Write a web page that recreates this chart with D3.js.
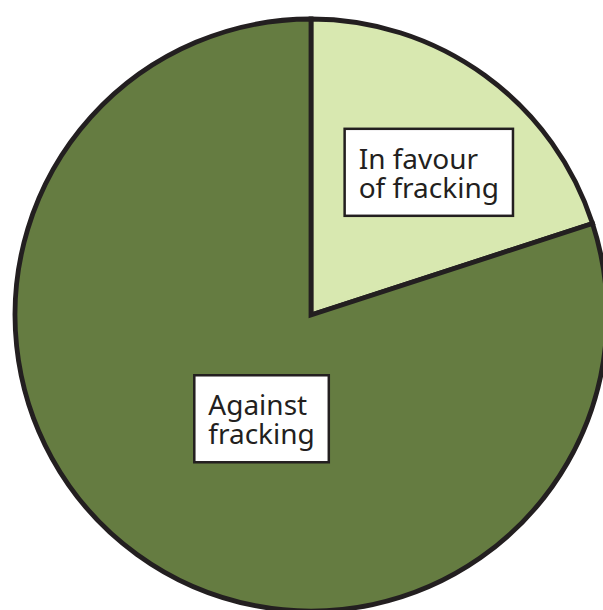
<!DOCTYPE HTML>
<html>
	<head>
        <meta charset='utf-8'>
        <title>Fracking pie</title>
        <script src='https://d3js.org/d3.v7.min.js'></script>
        <style>
            body { margin: 0; background: #fff; }
            .slice { stroke: #231f20; stroke-width: 4.8px; stroke-linejoin: miter; }
            .label-box { fill: #fff; stroke: #231f20; stroke-width: 2.5px; }
            .label-text { font: 28px 'Noto Sans'; fill: #231f20; }
        </style>
	</head>
	<body>
        <svg width='603' height='610' id='pie'></svg>
        <script>
            // values (percent)
            const categories = ['In favour of fracking', 'Against fracking'];
            const values = [20, 80];
            const labelLines = [['In favour', 'of fracking'], ['Against', 'fracking']];
            const sliceColors = ['#d8e8b0', '#657c41'];

            var svg = d3.select('svg#pie'),
                cx = 311,
                cy = 315,
                radius = 296;

            var pie = d3.pie().sort(null).value(function(d) { return d.value; });
            var arc = d3.arc().innerRadius(0).outerRadius(radius);

            var data = categories.map(function(c, i) {
                return { name: c, value: values[i], lines: labelLines[i], color: sliceColors[i] };
            });

            var g = svg.append('g')
                .attr('transform', 'translate(' + cx + ',' + cy + ')');

            g.selectAll('path.slice')
                .data(pie(data))
                .enter().append('path')
                .attr('class', 'slice')
                .attr('fill', function(d) { return d.data.color; })
                .attr('d', arc);

            // where each label box sits: fraction of radius, and a small turn off the mid angle
            var labelRadius = [0.622, 0.392];
            var labelTurn = [0.066, -0.188];
            var lineHeight = 29;
            var padX = 14, padY = 10;

            var labels = g.selectAll('g.label')
                .data(pie(data))
                .enter().append('g')
                .attr('class', 'label')
                .attr('transform', function(d, i) {
                    var a = (d.startAngle + d.endAngle) / 2 + labelTurn[i];
                    var r = radius * labelRadius[i];
                    return 'translate(' + (Math.sin(a) * r) + ',' + (-Math.cos(a) * r) + ')';
                });

            labels.each(function(d) {
                var lg = d3.select(this);
                var rect = lg.append('rect').attr('class', 'label-box');
                var text = lg.append('text').attr('class', 'label-text');
                var n = d.data.lines.length;
                d.data.lines.forEach(function(line, j) {
                    text.append('tspan')
                        .attr('x', 0)
                        .attr('y', (j - (n - 1) / 2) * lineHeight)
                        .attr('dy', '0.35em')
                        .text(line);
                });
                var bb = text.node().getBBox();
                // center the block on the anchor, lines left-aligned
                text.selectAll('tspan').attr('x', -bb.width / 2);
                rect.attr('x', -bb.width / 2 - padX)
                    .attr('y', bb.y - padY)
                    .attr('width', bb.width + 2 * padX)
                    .attr('height', bb.height + 2 * padY);
            });
        </script>
	</body>
</html>
